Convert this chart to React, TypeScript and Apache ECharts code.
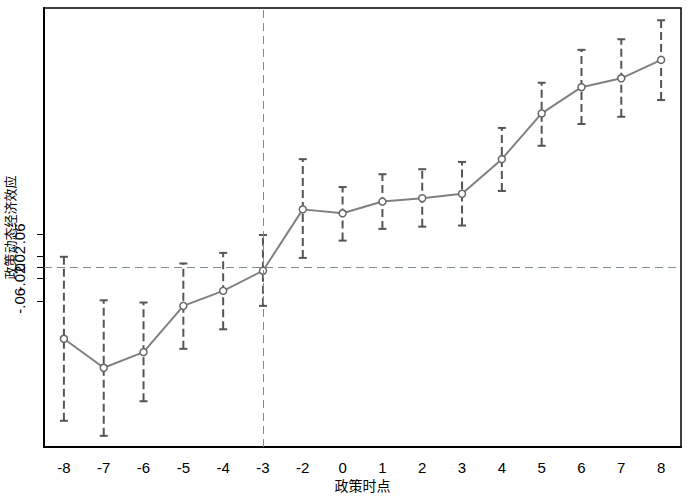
import React, { useEffect, useRef } from "react";
import * as echarts from "echarts";

const categories = ["-8", "-7", "-6", "-5", "-4", "-3", "-2", "0", "1", "2", "3", "4", "5", "6", "7", "8"];
const estimates = [-0.128, -0.180, -0.152, -0.069, -0.042, -0.006, 0.104, 0.097, 0.118, 0.124, 0.132, 0.194, 0.276, 0.323, 0.339, 0.372];
const lowerCI = [-0.275, -0.302, -0.240, -0.146, -0.111, -0.069, 0.017, 0.048, 0.069, 0.073, 0.075, 0.137, 0.218, 0.257, 0.270, 0.300];
const upperCI = [0.019, -0.059, -0.063, 0.007, 0.026, 0.058, 0.194, 0.144, 0.167, 0.176, 0.189, 0.250, 0.331, 0.390, 0.409, 0.443];
const yTicks = [-0.06, -0.04, -0.02, 0, 0.02, 0.04, 0.06];

const FONT = "'Liberation Sans', Arial, 'Noto Sans CJK SC', sans-serif";

function fmt(v: number): string {
  if (Math.abs(v) < 1e-9) return "0";
  const s = Math.abs(v).toFixed(2).replace(/^0/, "");
  return (v < 0 ? "-" : "") + s;
}

export default function App() {
  const ref = useRef<HTMLDivElement>(null);
  useEffect(() => {
    if (!ref.current) return;
    const chart = echarts.init(ref.current, null, { renderer: "svg" });
    const ciData = categories.map((_, i) => [i, lowerCI[i], upperCI[i]]);
    chart.setOption({
      animation: false,
      backgroundColor: "#ffffff",
      grid: {
        left: 44,
        top: 8,
        right: 9,
        bottom: 56,
        containLabel: false,
        outerBoundsMode: "none",
        show: true,
        borderColor: "#000",
        borderWidth: 1.5,
        backgroundColor: "transparent",
      },
      xAxis: {
        type: "category",
        data: categories,
        boundaryGap: true,
        name: "政策时点",
        nameLocation: "middle",
        nameGap: 30,
        nameMoveOverlap: false,
        nameTextStyle: { fontFamily: "'Noto Sans CJK SC'", fontSize: 14, color: "#000", lineHeight: 16 },
        axisLine: { onZero: false, lineStyle: { color: "#000", width: 2 } },
        axisTick: { alignWithLabel: true, length: 6, lineStyle: { color: "#000", width: 1 } },
        axisLabel: { fontFamily: FONT, fontSize: 15, color: "#000", margin: 12, lineHeight: 16 },
        splitLine: { show: false },
      },
      yAxis: {
        type: "value",
        min: -0.322,
        max: 0.465,
        name: "政策动态经济效应",
        nameLocation: "middle",
        nameGap: 28,
        nameMoveOverlap: false,
        nameTextStyle: { fontFamily: "'Noto Sans CJK SC'", fontSize: 13, color: "#000", lineHeight: 13 },
        axisLine: { show: true, onZero: false, lineStyle: { color: "#000", width: 2 } },
        axisTick: { show: true, length: 7, customValues: yTicks, lineStyle: { color: "#000", width: 1 } },
        axisLabel: {
          customValues: yTicks,
          hideOverlap: false,
          showMinLabel: true,
          showMaxLabel: true,
          rotate: 90,
          fontFamily: FONT,
          fontSize: 15,
          color: "#000",
          margin: 17,
          formatter: (v: number) => fmt(v),
        },
        splitLine: { show: false },
      },
      series: [
        {
          type: "custom",
          name: "ci",
          data: ciData,
          z: 3,
          renderItem: (params: any, api: any) => {
            const x = api.value(0);
            const lo = api.coord([x, api.value(1)]);
            const hi = api.coord([x, api.value(2)]);
            const cap = 4;
            const st = { stroke: "#555555", lineWidth: 2 };
            return {
              type: "group",
              children: [
                { type: "line", shape: { x1: lo[0], y1: lo[1], x2: hi[0], y2: hi[1] }, style: { ...st, lineDash: [8, 4] } },
                { type: "line", shape: { x1: lo[0] - cap, y1: lo[1], x2: lo[0] + cap, y2: lo[1] }, style: st },
                { type: "line", shape: { x1: hi[0] - cap, y1: hi[1], x2: hi[0] + cap, y2: hi[1] }, style: st },
              ],
            };
          },
        },
        {
          type: "line",
          name: "est",
          data: estimates,
          z: 4,
          symbol: "circle",
          symbolSize: 7,
          lineStyle: { color: "#808080", width: 2 },
          itemStyle: { color: "#ffffff", borderColor: "#666666", borderWidth: 1.5 },
          markLine: {
            silent: true,
            symbol: "none",
            label: { show: false },
            lineStyle: { color: "#7b8f88", width: 1, type: [8, 5] },
            data: [{ xAxis: "-3" }, { yAxis: 0 }],
          },
        },
      ],
    });
    return () => chart.dispose();
  }, []);
  return <div ref={ref} style={{ width: 690, height: 503, position: "absolute", left: 0, top: 0 }} />;
}
